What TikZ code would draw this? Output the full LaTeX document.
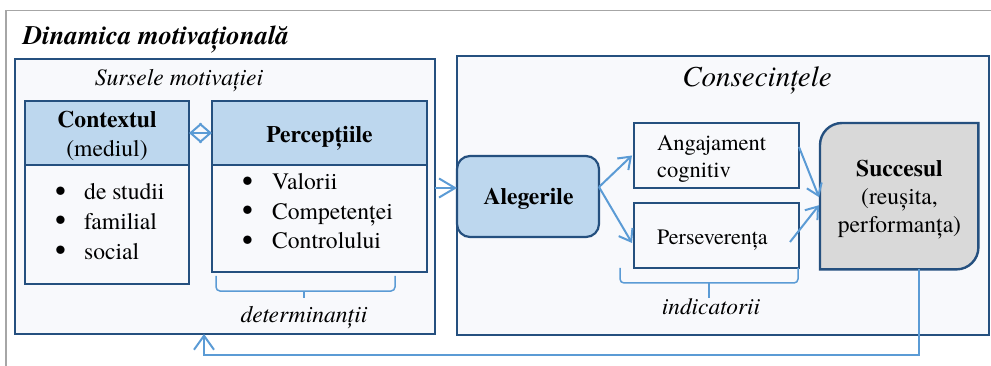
\documentclass[tikz,border=0pt]{standalone}
\usepackage{fontspec}
\setmainfont{texgyretermes}[Extension=.otf, UprightFont=*-regular, BoldFont=*-bold, ItalicFont=*-italic, BoldItalicFont=*-bolditalic]
\usetikzlibrary{arrows.meta,calc}
\definecolor{dkblue}{HTML}{25507F}
\definecolor{ltblue}{HTML}{BDD7EE}
\definecolor{panelbg}{HTML}{F8F9FC}
\definecolor{arrblue}{HTML}{5B9BD5}
\definecolor{succgray}{HTML}{D9D9D9}
\definecolor{framegray}{HTML}{A6A6A6}
\newcommand\fsz[1]{\fontsize{#1pt}{#1pt}\selectfont}
\newcommand\bigbul{\raisebox{-1.3pt}{\fsz{31}\textbullet}}
\begin{document}
\begin{tikzpicture}[x=1pt,y=-1pt,
  panel/.style={draw=dkblue, line width=1.6pt, fill=panelbg, anchor=north west, inner sep=0pt, outer sep=0pt},
  hbox/.style={draw=dkblue, line width=2.4pt, fill=ltblue, anchor=north west, inner sep=0pt, outer sep=0pt},
  lbox/.style={draw=dkblue, line width=2.4pt, fill=panelbg, anchor=north west, inner sep=0pt, outer sep=0pt},
  txt/.style={inner sep=0pt, anchor=base, font={\fsz{23.6}}},
  arr/.style={draw=arrblue, line width=2pt, -{Straight Barb[length=11pt,width=16pt]}},
  brace/.style={draw=arrblue, line width=1.5pt},
]
\useasboundingbox (0,0) rectangle (991,366);
% outer frame
\draw[framegray, line width=1.5pt] (6,366) -- (6,10.5) -- (991,10.5);
\node[inner sep=0pt, anchor=base west, font={\fsz{26.7}\bfseries\itshape}] (title) at (23,45) {Dinamica motivațională};

% panels
\node[panel, minimum width=420, minimum height=275] (src) at (15,59) {};
\node[panel, minimum width=532, minimum height=279] (cons) at (457,56) {};

\node[txt, font={\fsz{23.6}\itshape}] (srct) at (179,86) {Sursele motivației};
\node[txt, font={\fsz{29}\itshape}] (const) at (757,87) {Consecințele};

% context
\node[lbox, minimum width=164, minimum height=119] (ctxlist) at (25,165) {};
\node[hbox, minimum width=164, minimum height=64] (ctxhead) at (25,101) {};
\node[txt, font={\fsz{23.6}\bfseries}] (ctx1) at (107,128) {Contextul};
\node[txt] (ctx2) at (107,157) {(mediul)};
\node[txt, anchor=base west] (c1) at (55,200) {\makebox[29pt][l]{\bigbul}de studii};
\node[txt, anchor=base west] (c2) at (55,229.5) {\makebox[29pt][l]{\bigbul}familial};
\node[txt, anchor=base west] (c3) at (55,259) {\makebox[29pt][l]{\bigbul}social};

% perceptii
\node[lbox, minimum width=215, minimum height=107] (perlist) at (212,165) {};
\node[hbox, minimum width=215, minimum height=64] (perhead) at (212,101) {};
\node[txt, font={\fsz{23.6}\bfseries}] (pert) at (319.5,143) {Percepțiile};
\node[txt, anchor=base west] (p1) at (242,190) {\makebox[30pt][l]{\bigbul}Valorii};
\node[txt, anchor=base west] (p2) at (242,219.5) {\makebox[30pt][l]{\bigbul}Competenței};
\node[txt, anchor=base west] (p3) at (242,249) {\makebox[30pt][l]{\bigbul}Controlului};

\draw[arr, {Straight Barb[length=11pt,width=19pt]}-{Straight Barb[length=11pt,width=19pt]}] (ctxhead.east) -- (perhead.west);

% brace determinantii
\draw[brace, rounded corners=4pt] (216,276) -- (216,291) -- (395,291) -- (395,276);
\draw[brace] (304,291) -- (304,298);
\node[txt, font={\fsz{23.6}\itshape}] (det) at (304,323) {determinanții};

% alegerile
\node[hbox, rounded corners=13pt, line width=2.2pt, minimum width=142, minimum height=81] (aleg) at (457,156) {};
\node[txt, font={\fsz{23.6}\bfseries}] (alegt) at (528.5,205) {Alegerile};

% indicators
\node[lbox, minimum width=165, minimum height=65] (ang) at (634,123) {};
\node[txt, anchor=base west, font={\fsz{22.5}}] (ang1) at (657,151) {Angajament};
\node[txt, anchor=base west, font={\fsz{22.5}}] (ang2) at (657,178) {cognitiv};
\node[lbox, minimum width=165, minimum height=65] (pers) at (634,203) {};
\node[txt, anchor=base west, font={\fsz{22}}] (perst) at (657,245) {Perseverența};

\draw[brace, rounded corners=4pt] (620,268) -- (620,283) -- (798,283) -- (798,268);
\draw[brace] (709,283) -- (709,298);
\node[txt, font={\fsz{23.3}\itshape}] (ind) at (711,314) {indicatorii};

% succesul
\node[inner sep=0pt, anchor=north west, minimum width=158, minimum height=146] (succ) at (820,123) {};
\draw[draw=dkblue, line width=2.4pt, fill=succgray]
  (succ.south west) -- ([yshift=-22pt]succ.north west) arc[start angle=180, end angle=90, radius=22pt]
  -- (succ.north east) -- ([yshift=22pt]succ.south east) arc[start angle=0, end angle=-90, radius=22pt] -- cycle;
\node[txt, font={\fsz{23.6}\bfseries}] (s1) at (899.5,177) {Succesul};
\node[txt] (s2) at (899.5,205) {(reușita,};
\node[txt] (s3) at (899.5,233) {performanța)};

% arrows
\coordinate (ain) at ([yshift=8.5pt]aleg.west);
\draw[arr, -{Straight Barb[length=16pt,width=19pt]}] (src.east |- ain) -- (ain);
\coordinate (aout) at ([yshift=9.5pt]aleg.east);
\draw[arr] (aout) -- ([xshift=-2pt]ang.west);
\draw[arr] (aout) -- ([xshift=-2pt,yshift=-7.5pt]pers.west);
\draw[arr] ([yshift=8.5pt]ang.east) -- ([xshift=-1pt,yshift=-1pt]succ.west);
\draw[arr] ([xshift=-9pt,yshift=-6.5pt]pers.east) -- ([xshift=-1pt,yshift=-9pt]succ.west);

\coordinate (fbc) at (204,355);
\draw[arr, -{Straight Barb[length=14pt,width=20pt]}] ([xshift=20pt]succ.south) |- (fbc) -- (src.south -| fbc);
\end{tikzpicture}
\end{document}
